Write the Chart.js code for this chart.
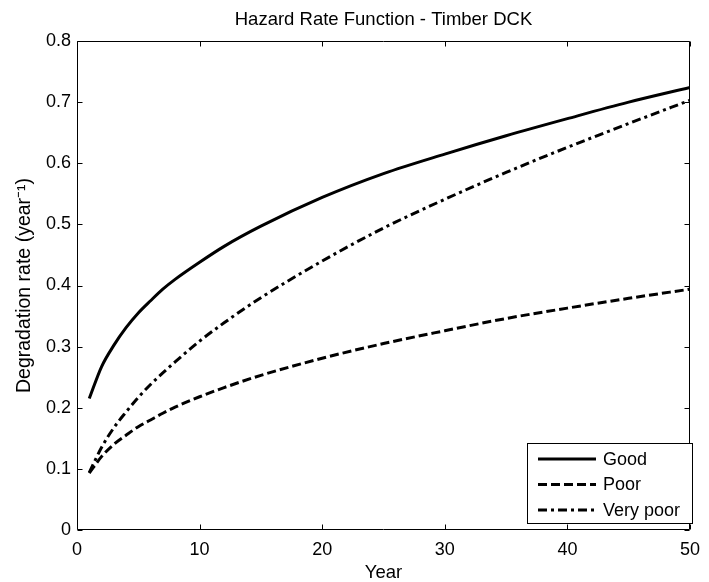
<!DOCTYPE html>
<html>
<head>
<meta charset="utf-8">
<script src="https://cdn.jsdelivr.net/npm/chart.js@4/dist/chart.umd.min.js"></script>
<style>
  html, body { margin: 0; padding: 0; background: #fff; }
</style>
</head>
<body>
<canvas id="grafico" width="709" height="582"></canvas>
<script>
// valores
const years    = [1, 2, 3, 4, 5, 6, 7, 8, 10, 12, 15, 20, 25, 30, 35, 40, 45, 50];
const good     = [0.215, 0.267, 0.302, 0.331, 0.355, 0.375, 0.394, 0.410, 0.438, 0.464, 0.497, 0.544, 0.583, 0.615, 0.645, 0.673, 0.700, 0.724];
const poor     = [0.093, 0.120, 0.140, 0.155, 0.169, 0.180, 0.191, 0.201, 0.218, 0.233, 0.253, 0.281, 0.305, 0.326, 0.346, 0.363, 0.379, 0.394];
const veryPoor = [0.094, 0.135, 0.167, 0.193, 0.217, 0.238, 0.257, 0.275, 0.309, 0.339, 0.380, 0.440, 0.494, 0.541, 0.585, 0.626, 0.665, 0.703];
const seriesNames = ['Good', 'Poor', 'Very poor'];
const xTicks = [0, 10, 20, 30, 40, 50];
const yTicks = [0, 0.1, 0.2, 0.3, 0.4, 0.5, 0.6, 0.7, 0.8];

const fonte = 'Liberation Sans, Arial, Helvetica, sans-serif';

function pontos(valores) {
    return years.map((ano, i) => ({x: ano, y: valores[i]}));
}

// caixa dos eixos com ticks para dentro (estilo matlab)
const moldura = {
    id: 'moldura',
    afterDatasetsDraw(chart) {
        const {ctx, chartArea, scales} = chart;
        const l = Math.round(chartArea.left) + 0.5;
        const r = Math.round(chartArea.right) - 0.5;
        const t = Math.round(chartArea.top) + 0.5;
        const b = Math.round(chartArea.bottom) - 0.5;
        ctx.save();
        ctx.strokeStyle = '#000';
        ctx.lineWidth = 1;
        ctx.beginPath();
        ctx.rect(l, t, r - l, b - t);
        xTicks.forEach(v => {
            const px = Math.round(scales.x.getPixelForValue(v)) + 0.5;
            ctx.moveTo(px, b); ctx.lineTo(px, b - 5);
            ctx.moveTo(px, t); ctx.lineTo(px, t + 5);
        });
        yTicks.forEach(v => {
            const py = Math.round(scales.y.getPixelForValue(v)) + 0.5;
            ctx.moveTo(l, py); ctx.lineTo(l + 5, py);
            ctx.moveTo(r, py); ctx.lineTo(r - 5, py);
        });
        ctx.stroke();
        ctx.restore();
    }
};

// legenda dentro da area do grafico, canto inferior direito
const legendaDentro = {
    id: 'legendaDentro',
    afterDraw(chart) {
        const {ctx} = chart;
        const box = {x: 527.5, y: 443.5, w: 165, h: 80};
        ctx.save();
        ctx.fillStyle = '#fff';
        ctx.fillRect(box.x, box.y, box.w, box.h);
        ctx.strokeStyle = '#000';
        ctx.lineWidth = 1;
        ctx.strokeRect(box.x, box.y, box.w, box.h);
        chart.data.datasets.forEach((ds, i) => {
            const yy = 459 + i * 25.5;
            ctx.beginPath();
            ctx.setLineDash(ds.borderDash || []);
            ctx.lineWidth = ds.borderWidth;
            ctx.strokeStyle = ds.borderColor;
            ctx.moveTo(538, yy);
            ctx.lineTo(596, yy);
            ctx.stroke();
            ctx.setLineDash([]);
            ctx.fillStyle = '#000';
            ctx.font = '18px ' + fonte;
            ctx.textBaseline = 'middle';
            ctx.textAlign = 'left';
            ctx.fillText(ds.label, 603, yy + 1);
        });
        ctx.restore();
    }
};

const data = {
    datasets: [
        {label: seriesNames[0], data: pontos(good), borderColor: '#000', borderWidth: 3, borderDash: []},
        {label: seriesNames[1], data: pontos(poor), borderColor: '#000', borderWidth: 3, borderDash: [9, 4]},
        {label: seriesNames[2], data: pontos(veryPoor), borderColor: '#000', borderWidth: 3, borderDash: [9, 4, 3, 4]}
    ]
};

const config = {
    type: 'line',
    data: data,
    options: {
        responsive: false,
        animation: false,
        devicePixelRatio: 1,
        layout: {padding: {left: 0, right: 11, top: 0, bottom: 0}},
        elements: {
            point: {radius: 0},
            line: {cubicInterpolationMode: 'monotone', borderCapStyle: 'butt', fill: false}
        },
        plugins: {
            legend: {display: false},
            tooltip: {enabled: false}
        },
        scales: {
            x: {
                type: 'linear',
                min: 0,
                max: 50,
                afterBuildTicks: s => { s.ticks = xTicks.map(v => ({value: v})); },
                afterFit: s => { s.height = 52; },
                grid: {display: false, drawTicks: false},
                border: {display: false},
                ticks: {color: '#000', padding: 9, font: {family: fonte, size: 18}},
                title: {
                    display: true,
                    text: 'Year',
                    color: '#000',
                    font: {family: fonte, size: 18.5, lineHeight: 1},
                    padding: {top: 0, bottom: 0}
                }
            },
            // eixo de cima so para o titulo, centrado sobre os eixos
            topo: {
                type: 'linear',
                position: 'top',
                min: 0,
                max: 50,
                afterFit: s => { s.height = 41; },
                grid: {display: false, drawTicks: false},
                border: {display: false},
                ticks: {display: false},
                title: {
                    display: true,
                    text: 'Hazard Rate Function - Timber DCK',
                    color: '#000',
                    font: {family: fonte, size: 18.5, lineHeight: 1},
                    padding: {top: 11, bottom: 0}
                }
            },
            y: {
                type: 'linear',
                min: 0,
                max: 0.8,
                afterBuildTicks: s => { s.ticks = yTicks.map(v => ({value: v})); },
                afterFit: s => { s.width = 77; },
                grid: {display: false, drawTicks: false},
                border: {display: false},
                ticks: {color: '#000', padding: 6, font: {family: fonte, size: 18}},
                title: {
                    display: true,
                    text: 'Degradation rate (year\u207B\u00B9)',
                    color: '#000',
                    font: {family: fonte, size: 19.5, lineHeight: 1},
                    padding: {top: 15, bottom: 0}
                }
            }
        }
    },
    plugins: [moldura, legendaDentro]
};

new Chart(document.getElementById('grafico'), config);
</script>
</body>
</html>
